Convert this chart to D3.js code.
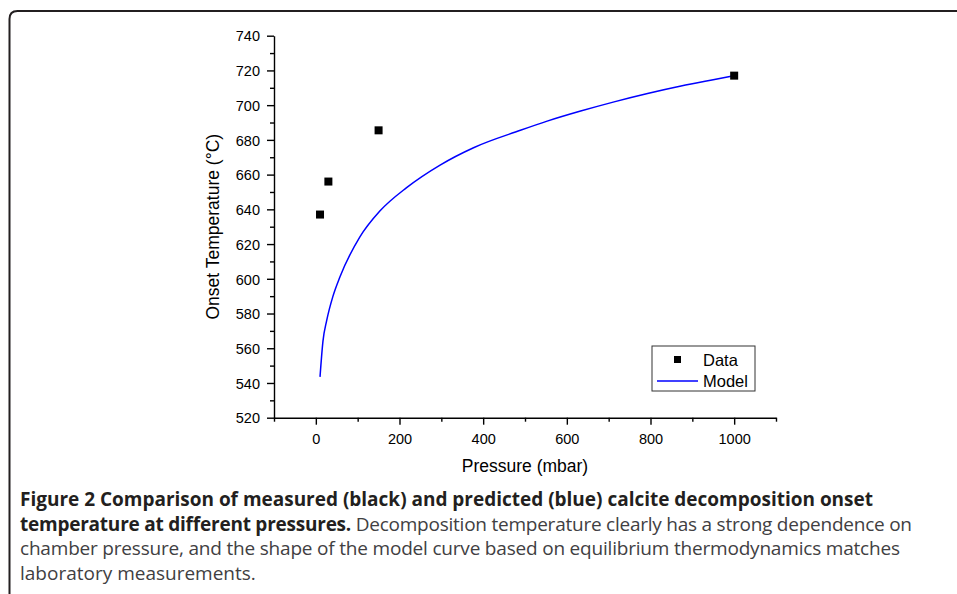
<!DOCTYPE html>
<html>
<head>
<meta charset="utf-8">
<script src="https://cdn.jsdelivr.net/npm/d3@7"></script>
<style>
  body { margin: 0; background: #fff; }
  svg { display: block; }
  .axis text { font-family: "Liberation Sans", Arial, sans-serif; font-size: 14.5px; fill: #000; }
  .axis path, .axis line { stroke: #000; stroke-width: 1.4; }
  .title { font-family: "Liberation Sans", Arial, sans-serif; font-size: 17.5px; fill: #000; }
  .caption { font-family: "Open Sans", "Noto Sans", sans-serif; font-size: 19px; fill: #414042; }
  .caption .b { font-weight: bold; fill: #231f20; }
</style>
</head>
<body>
<svg id="chart" width="957" height="594"></svg>
<script>
// measured onset points
const dataPressure = [10, 30, 150, 1000];
const dataTemp = [637, 656, 685.5, 717];

// model curve
const modelPressure = [10, 17, 26, 41, 57.5, 105, 153, 217, 297, 377, 489, 553, 633, 713, 793, 873, 953, 1000];
const modelTemp = [543.5, 564, 576, 590, 601, 624, 639, 652.5, 665.5, 675.5, 685.5, 690.8, 696.6, 701.9, 706.7, 711, 714.8, 717];

const xMajor = [0, 200, 400, 600, 800, 1000];
const xMinor = [-100, 100, 300, 500, 700, 900, 1100];
const yMajor = [520, 540, 560, 580, 600, 620, 640, 660, 680, 700, 720, 740];
const yMinor = [530, 550, 570, 590, 610, 630, 650, 670, 690, 710, 730];

const captionLines = [
    [["b", "Figure 2 Comparison of measured (black) and predicted (blue) calcite decomposition onset"]],
    [["b", "temperature at different pressures."], ["", " Decomposition temperature clearly has a strong dependence on"]],
    [["", "chamber pressure, and the shape of the model curve based on equilibrium thermodynamics matches"]],
    [["", "laboratory measurements."]]
];
const captionWidths = [853, 892, 880, null];

const svg = d3.select("#chart");

const x = d3.scaleLinear().domain([-100, 1100]).range([274, 776]);
const y = d3.scaleLinear().domain([520, 740]).range([417.7, 35.7]);

// frame round the figure
svg.append("path")
    .attr("d", "M9.5,594 V19 Q9.5,11 17.5,11 H957")
    .attr("fill", "none")
    .attr("stroke", "#231f20")
    .attr("stroke-width", 2);

// axes
const gx = svg.append("g").attr("class", "axis")
    .attr("transform", "translate(0," + y(520) + ")");
gx.call(d3.axisBottom(x).tickValues(xMajor).tickFormat(d3.format("d"))
    .tickSize(7).tickSizeOuter(0).tickPadding(9));
gx.append("g").call(d3.axisBottom(x).tickValues(xMinor).tickSize(4).tickSizeOuter(0).tickFormat(""))
    .select(".domain").remove();

const gy = svg.append("g").attr("class", "axis")
    .attr("transform", "translate(" + x(-100) + ",0)");
gy.call(d3.axisLeft(y).tickValues(yMajor).tickSize(7).tickSizeOuter(0).tickPadding(7));
gy.append("g").call(d3.axisLeft(y).tickValues(yMinor).tickSize(4).tickSizeOuter(0).tickFormat(""))
    .select(".domain").remove();
gy.selectAll("text").attr("dy", "0.36em");

svg.append("text").attr("class", "title")
    .attr("x", (x(-100) + x(1100)) / 2).attr("y", 471.5)
    .attr("text-anchor", "middle")
    .text("Pressure (mbar)");

svg.append("text").attr("class", "title")
    .attr("transform", "translate(219," + (y(520) + y(740)) / 2 + ") rotate(-90)")
    .attr("text-anchor", "middle")
    .text("Onset Temperature (\u00B0C)");

// model curve
const model = modelPressure.map((p, i) => [p, modelTemp[i]]);
svg.append("path")
    .datum(model)
    .attr("fill", "none")
    .attr("stroke", "#0000ff")
    .attr("stroke-width", 1.5)
    .attr("d", d3.line().x(d => x(d[0])).y(d => y(d[1])).curve(d3.curveMonotoneX));

// measured points
svg.selectAll("rect.pt")
    .data(dataPressure.map((p, i) => [p, dataTemp[i]]))
    .enter().append("rect").attr("class", "pt")
    .attr("x", d => x(d[0]) - 4).attr("y", d => y(d[1]) - 4)
    .attr("width", 8).attr("height", 8)
    .attr("fill", "#000");

// legend
const lg = svg.append("g").attr("transform", "translate(652,346)");
lg.append("rect").attr("width", 103).attr("height", 45)
    .attr("fill", "#fff").attr("stroke", "#333").attr("stroke-width", 1);
lg.append("rect").attr("x", 22).attr("y", 10).attr("width", 7).attr("height", 7).attr("fill", "#000");
lg.append("line").attr("x1", 5).attr("x2", 46).attr("y1", 35).attr("y2", 35)
    .attr("stroke", "#0000ff").attr("stroke-width", 1.3);
lg.append("text").attr("class", "title").attr("x", 51).attr("y", 19.5).style("font-size", "16.5px").text("Data");
lg.append("text").attr("class", "title").attr("x", 51).attr("y", 41).style("font-size", "16.5px").text("Model");

// caption
const cap = svg.append("g").attr("class", "caption");
captionLines.forEach((line, i) => {
    const t = cap.append("text").attr("x", 20).attr("y", 506 + i * 24.5);
    if (captionWidths[i]) t.attr("textLength", captionWidths[i]);
    line.forEach(seg => {
        t.append("tspan").attr("class", seg[0]).text(seg[1]);
    });
});
</script>
</body>
</html>
